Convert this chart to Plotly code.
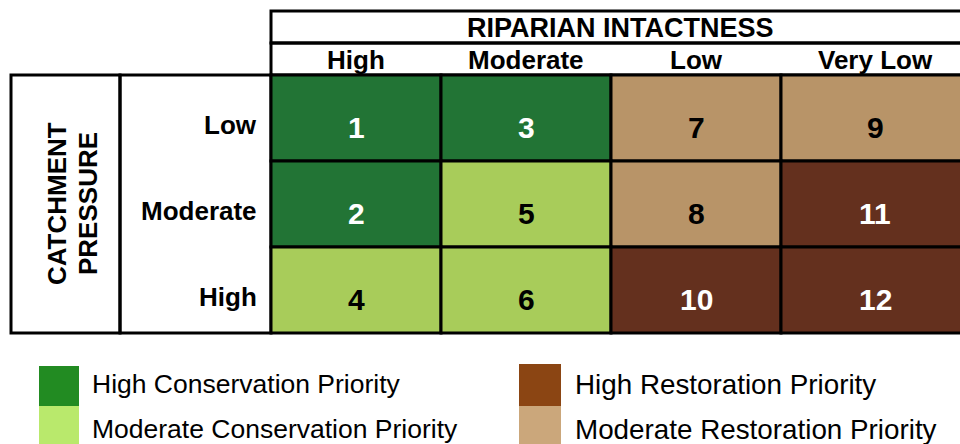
import plotly.graph_objects as go

# data
col_labels = ["High", "Moderate", "Low", "Very Low"]
row_labels = ["Low", "Moderate", "High"]
cell_numbers = [[1, 3, 7, 9], [2, 5, 8, 11], [4, 6, 10, 12]]
# 0 high conservation, 1 moderate conservation, 2 high restoration, 3 moderate restoration
cell_class = [[0, 0, 3, 3], [0, 1, 3, 2], [1, 1, 2, 2]]
legend_labels = [
    "High Conservation Priority",
    "Moderate Conservation Priority",
    "High Restoration Priority",
    "Moderate Restoration Priority",
]
col_title = "RIPARIAN INTACTNESS"
row_title = ["CATCHMENT", "PRESSURE"]

# styles
cell_colors = ["#227435", "#A8CC5A", "#64301E", "#B89468"]
number_colors = ["white", "black", "white", "black"]
legend_colors = ["#228B22", "#B9E96C", "#8B4513", "#CBA77B"]
FONT = "Liberation Sans, Arial, sans-serif"
LW = 3

col_edges = [271, 441, 611, 781, 969]
row_edges = [75, 161, 247, 333]
title_top, header_top = 11, 43
left_edges = [11, 120, 271]

fig = go.Figure()
shapes = []
annotations = []


def rect(x0, x1, y0, y1, fill="rgba(0,0,0,0)"):
    shapes.append(dict(type="rect", xref="x", yref="y", x0=x0, x1=x1, y0=y0, y1=y1,
                       fillcolor=fill, line=dict(color="black", width=LW), layer="above"))


def text(x, y, s, size, color="black", bold=True, xanchor="center", angle=0):
    annotations.append(dict(x=x, y=y, xref="x", yref="y", text=s, showarrow=False,
                            xanchor=xanchor, yanchor="middle", textangle=angle,
                            font=dict(family=FONT, size=size, color=color,
                                      weight="bold" if bold else "normal")))


# header boxes
rect(col_edges[0], col_edges[-1], title_top, header_top)
rect(col_edges[0], col_edges[-1], header_top, row_edges[0])
text((col_edges[0] + col_edges[-1]) / 2, (title_top + header_top) / 2 + 1, col_title, 27)
for j, lab in enumerate(col_labels):
    text((col_edges[j] + col_edges[j + 1]) / 2, (header_top + row_edges[0]) / 2 + 1, lab, 26)

# left boxes
rect(left_edges[0], left_edges[1], row_edges[0], row_edges[-1])
rect(left_edges[1], left_edges[2], row_edges[0], row_edges[-1])
yc = (row_edges[0] + row_edges[-1]) / 2
text(57, yc, row_title[0], 26, angle=-90)
text(88, yc, row_title[1], 26, angle=-90)
for i, lab in enumerate(row_labels):
    text(left_edges[2] - 12, (row_edges[i] + row_edges[i + 1]) / 2 + 7, lab, 26, xanchor="right")

# cells
for i in range(len(row_labels)):
    for j in range(len(col_labels)):
        k = cell_class[i][j]
        rect(col_edges[j], col_edges[j + 1], row_edges[i], row_edges[i + 1], cell_colors[k])
        text((col_edges[j] + col_edges[j + 1]) / 2, (row_edges[i] + row_edges[i + 1]) / 2 + 9,
             str(cell_numbers[i][j]), 30, color=number_colors[k])

# legend
leg_pos = [(39, 79, 366, 406, 90), (39, 79, 406, 446, 90),
           (519, 561, 364, 406, 573), (519, 561, 406, 446, 573)]
leg_text_y = [384, 429, 384, 429]
leg_size = [26.5, 26.5, 27.8, 27.8]
for (x0, x1, y0, y1, tx), lab, col, ty, sz in zip(leg_pos, legend_labels, legend_colors,
                                                   leg_text_y, leg_size):
    shapes.append(dict(type="rect", xref="x", yref="y", x0=x0, x1=x1, y0=y0, y1=y1,
                       fillcolor=col, line=dict(width=0), layer="above"))
    text(tx, ty, lab, sz, bold=False, xanchor="left")

fig.update_layout(
    width=960, height=444,
    margin=dict(l=0, r=0, t=0, b=0),
    paper_bgcolor="white", plot_bgcolor="white",
    xaxis=dict(range=[0, 960], visible=False, fixedrange=True),
    yaxis=dict(range=[444, 0], visible=False, fixedrange=True),
    shapes=shapes, annotations=annotations, showlegend=False,
)

fig.write_html(
    "out.html",
    config={"displayModeBar": False},
    post_script="document.body.style.margin='0';document.body.style.overflow='hidden';",
)
